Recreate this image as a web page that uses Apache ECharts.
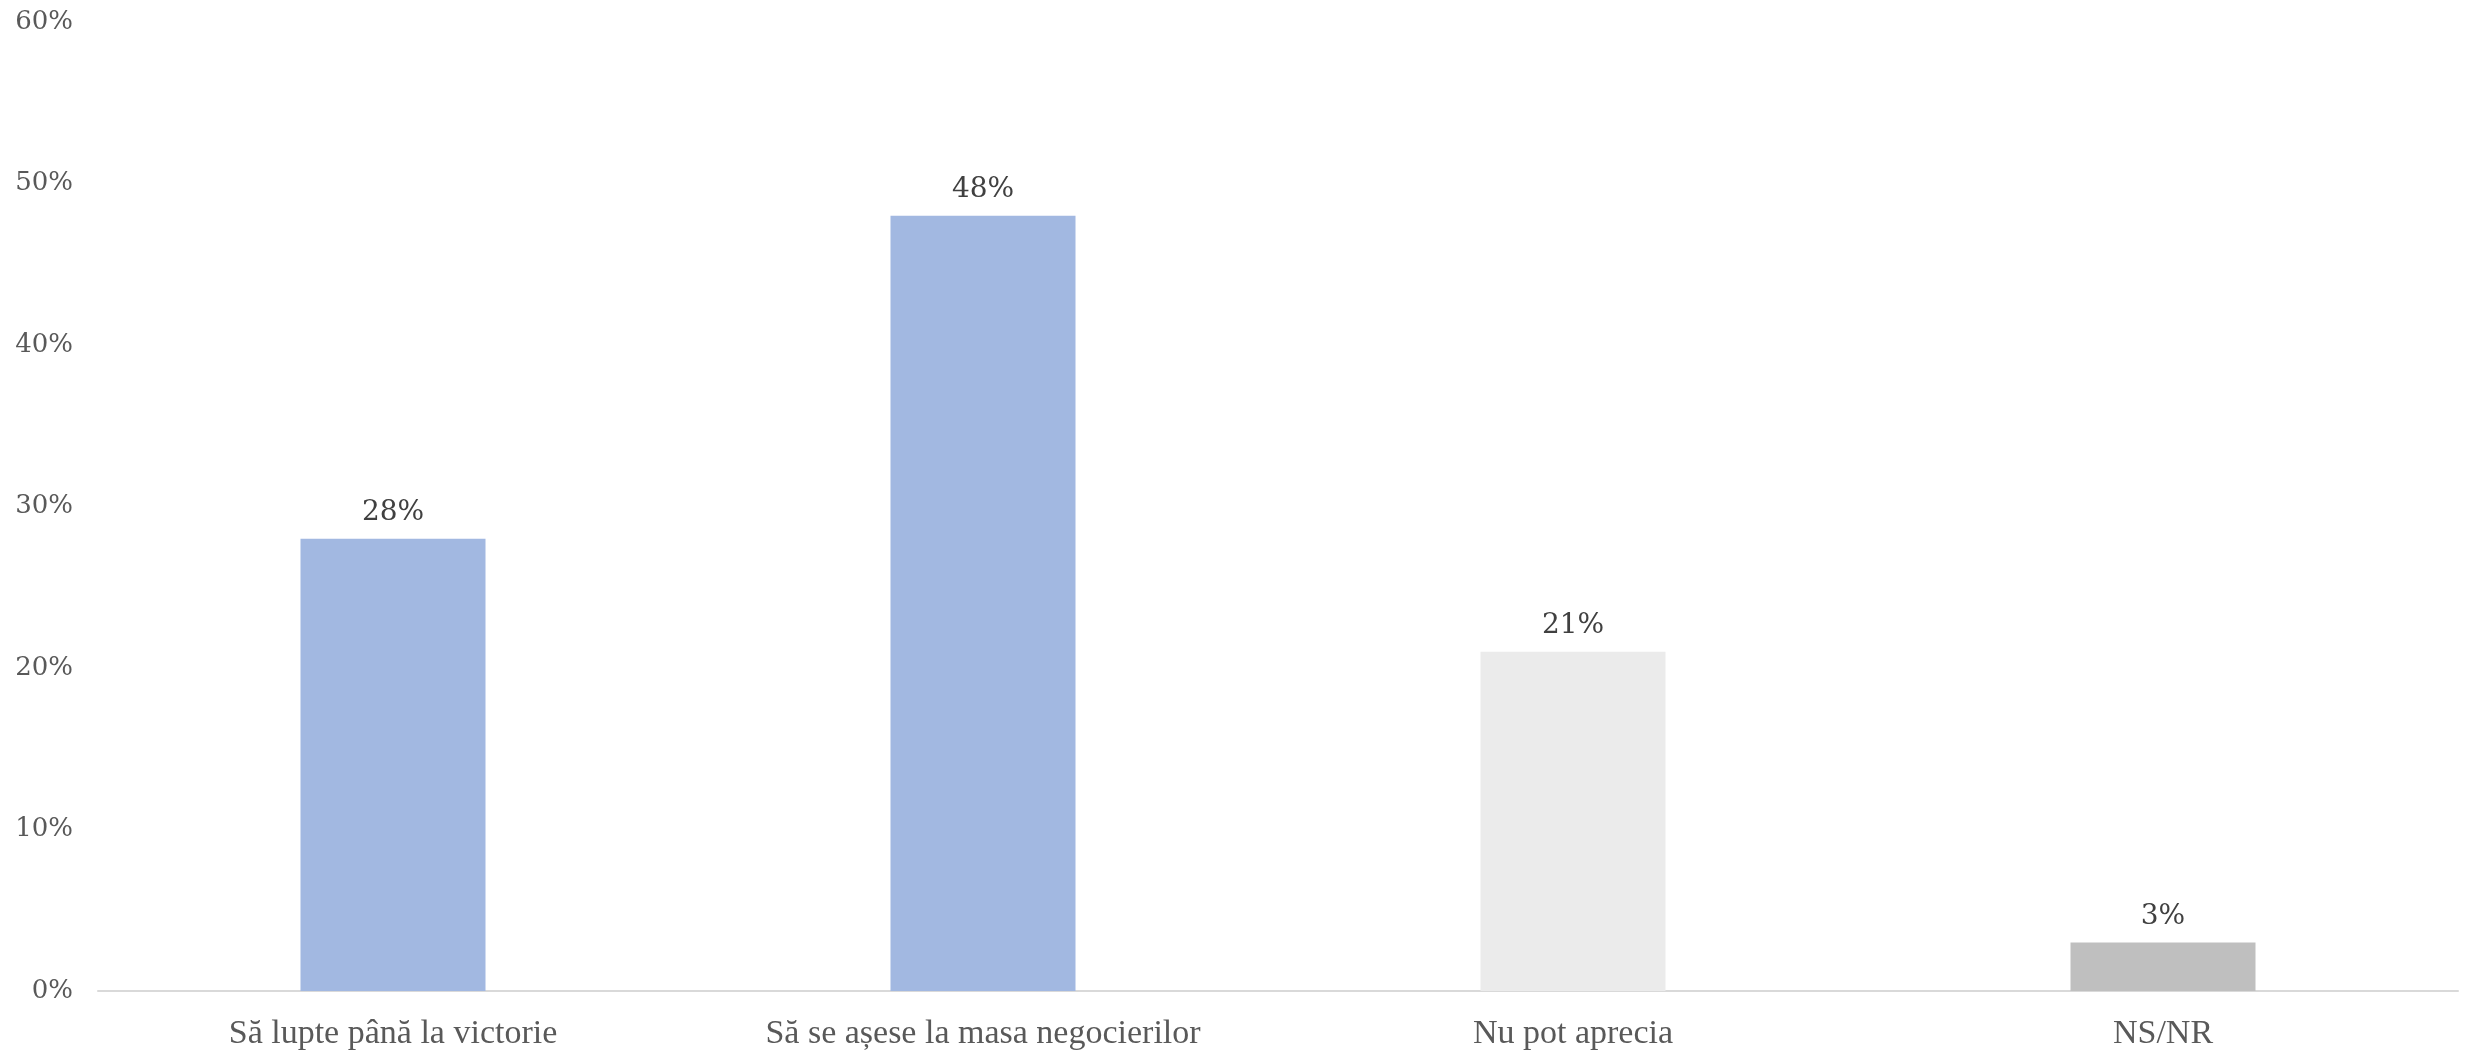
<!DOCTYPE html>
<html>
<head>
<meta charset="utf-8">
<script src="https://cdn.jsdelivr.net/npm/echarts@6/dist/echarts.min.js"></script>
<style>
html,body{margin:0;padding:0;background:#fff;}
#chart{width:2475px;height:1051px;}
</style>
</head>
<body>
<div id="chart"></div>
<script>
const categories = ["Să lupte până la victorie", "Să se așese la masa negocierilor", "Nu pot aprecia", "NS/NR"];
const values = [28, 48, 21, 3];
const barColors = ["#A2B8E1", "#A2B8E1", "#EBEBEB", "#BFBFBF"];
const yTicks = { min: 0, max: 60, interval: 10 };

const chart = echarts.init(document.getElementById('chart'));
chart.setOption({
  backgroundColor: '#ffffff',
  animation: false,
  grid: { left: 98, right: 17, top: 22, bottom: 60, containLabel: false },
  xAxis: {
    type: 'category',
    data: categories,
    axisLine: { show: true, lineStyle: { color: '#D9D9D9', width: 2 } },
    axisTick: { show: false },
    axisLabel: {
      color: '#595959',
      fontFamily: 'Liberation Serif',
      fontSize: 34,
      margin: 26
    }
  },
  yAxis: {
    type: 'value',
    min: yTicks.min, max: yTicks.max, interval: yTicks.interval,
    axisLine: { show: false },
    axisTick: { show: false },
    splitLine: { show: false },
    axisLabel: {
      color: '#595959',
      fontFamily: 'DejaVu Serif',
      fontSize: 26,
      margin: 25,
      formatter: v => v + '%'
    }
  },
  series: [{
    type: 'bar',
    barWidth: 185,
    data: values.map((v, i) => ({ value: v, itemStyle: { color: barColors[i] } })),
    label: {
      show: true,
      position: 'top',
      distance: 12,
      color: '#404040',
      fontFamily: 'DejaVu Serif',
      fontSize: 28,
      formatter: p => p.value + '%'
    }
  }]
});
</script>
</body>
</html>
